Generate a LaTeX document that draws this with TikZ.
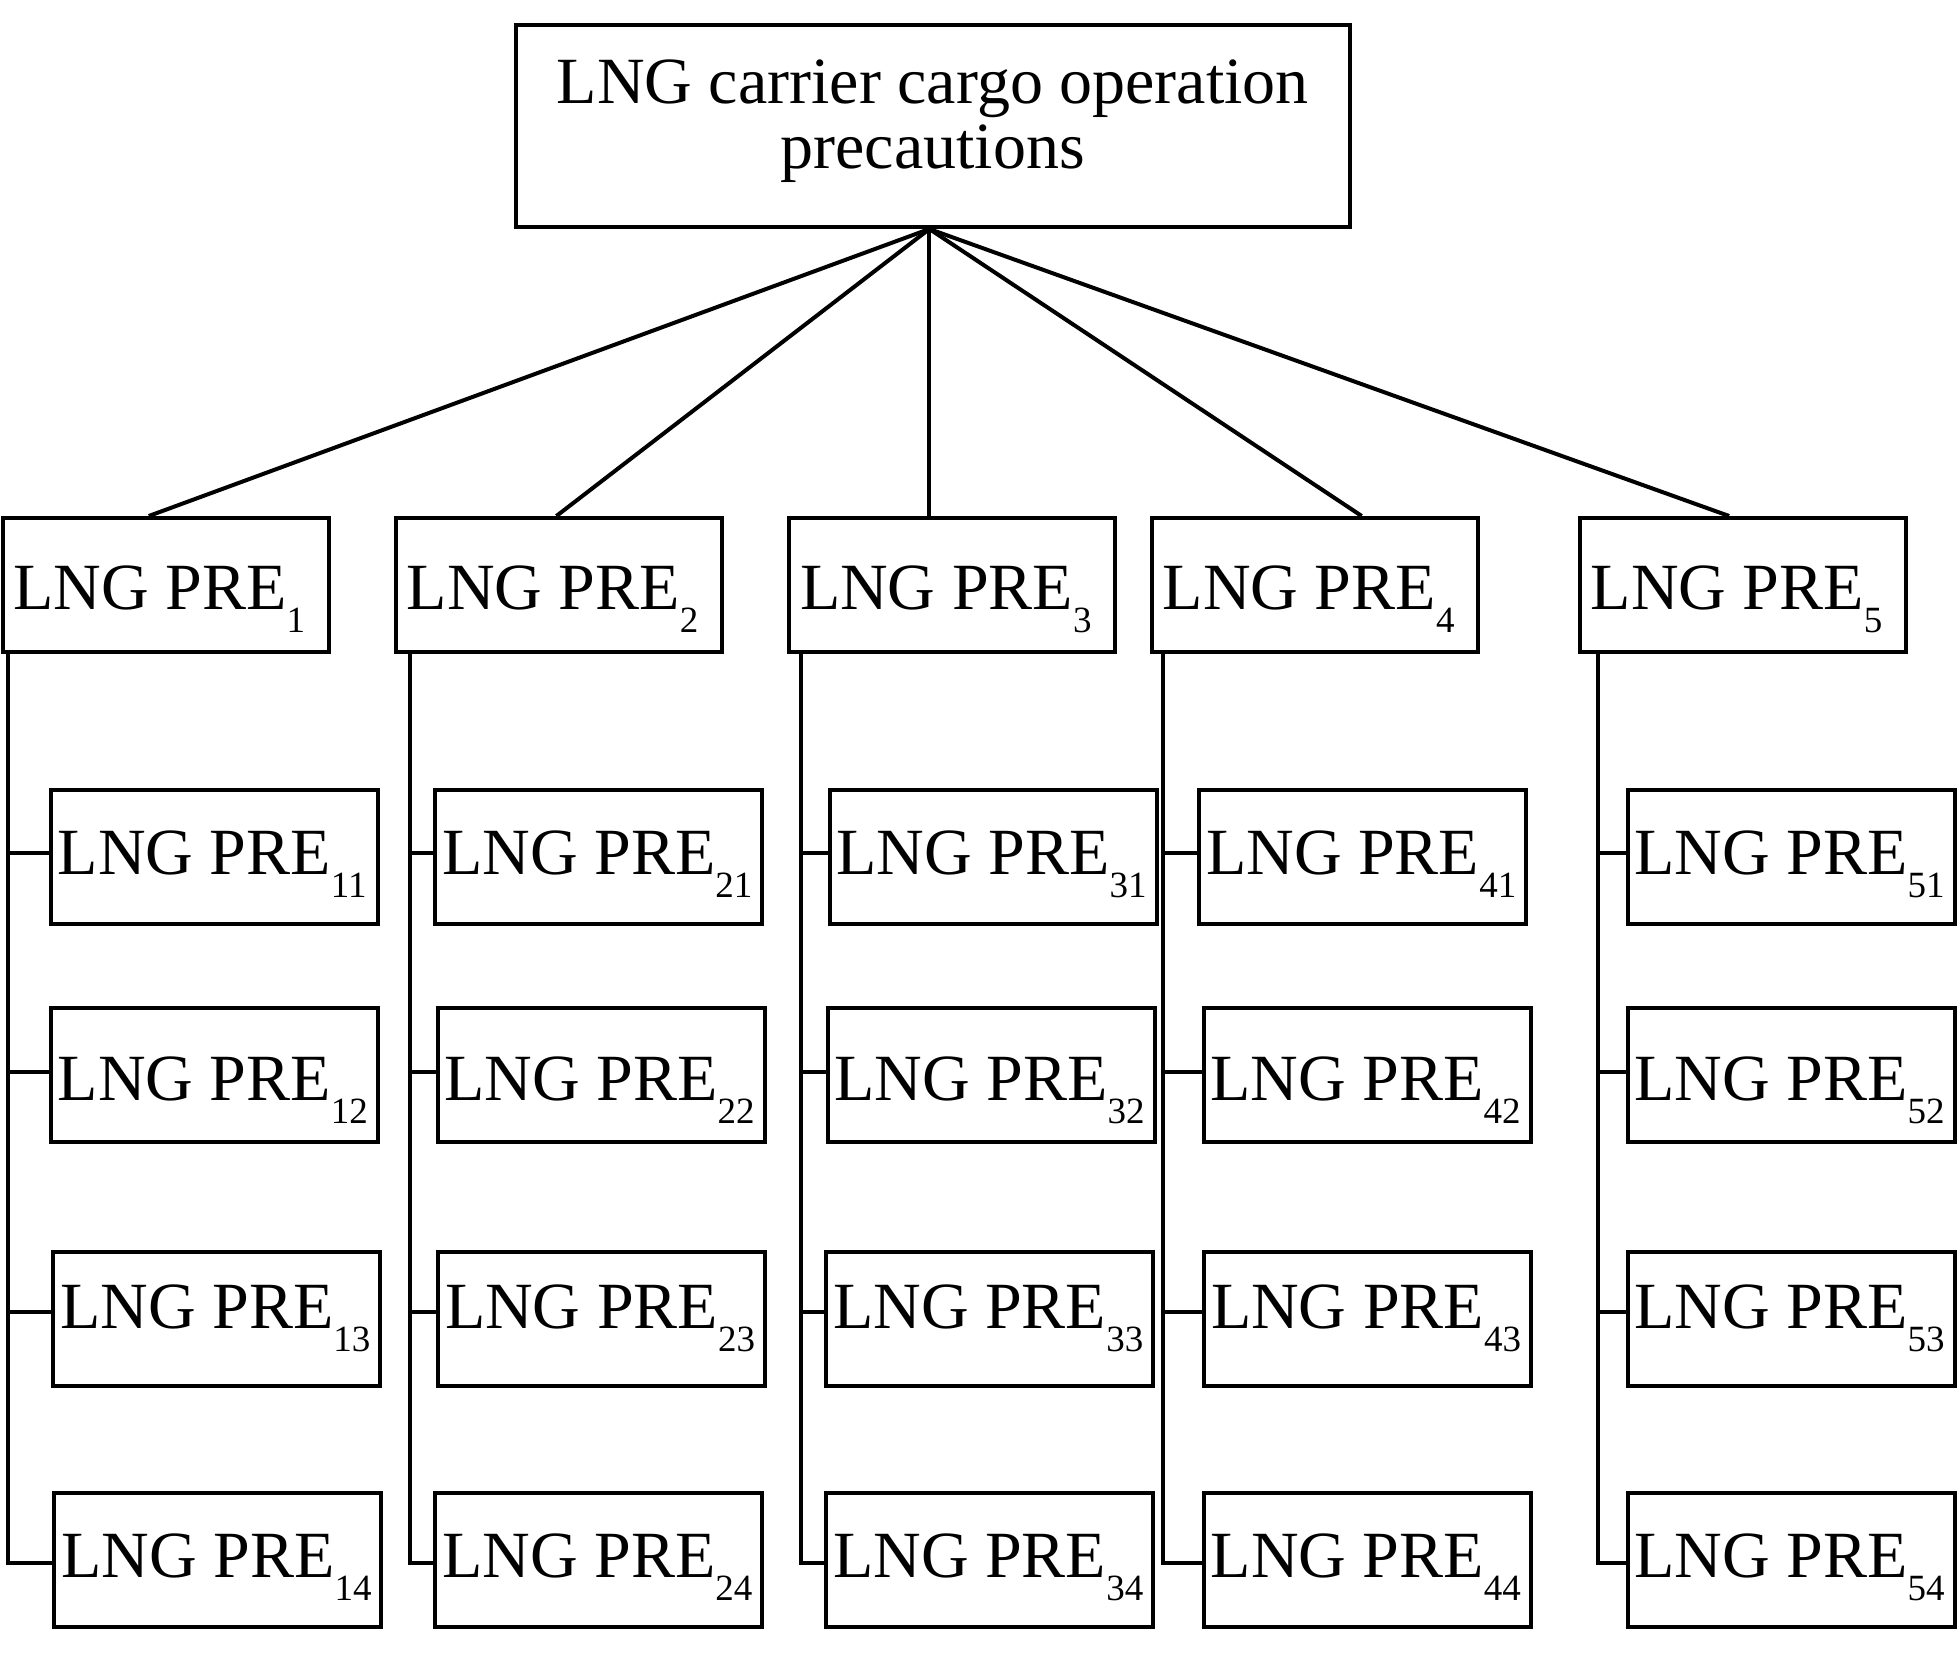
\documentclass[tikz,border=0pt]{standalone}
\usepackage{fontspec}
\setmainfont{Liberation Serif}
\newcommand{\mainsz}{\fontsize{33}{32.5}\selectfont}
\newcommand{\lngpre}[1]{LNG PRE\raisebox{-11.5pt}{\fontsize{18.5}{20}\selectfont #1}}
\newcommand{\preA}[1]{\makebox[152pt][l]{\lngpre{#1}}}
\newcommand{\preB}[1]{\makebox[156.5pt][l]{\lngpre{#1}}}
\begin{document}
\begin{tikzpicture}[x=0.5pt,y=-0.5pt,line width=2pt,
  box/.style={draw,rectangle,inner sep=0pt,font=\mainsz},
  lone/.style={box,minimum width=163pt,minimum height=67pt,text height=36pt,text depth=12pt},
  ltwo/.style={box,minimum width=163.5pt,minimum height=67pt,text depth=12pt},
  rowa/.style={ltwo,text height=29pt},
  rowb/.style={ltwo,text height=37.5pt},
  rowc/.style={ltwo,text height=21.5pt},
  rowd/.style={ltwo,text height=29pt}]
\useasboundingbox (0,0) rectangle (1958,1654);

% root
\node[box,minimum width=417pt,minimum height=101pt,align=center] (top) at (932.75,126)
  {\rule{0pt}{25pt}LNG carrier cargo operation\\precautions\rule[-15.2pt]{0pt}{15.2pt}};

% level 1
\node[lone] (b1) at (165.5,585) {\preA{1}};
\node[lone] (b2) at (558.7,585) {\preA{2}};
\node[lone] (b3) at (952,585) {\preA{3}};
\node[lone] (b4) at (1314.8,585) {\preA{4}};
\node[lone] (b5) at (1742.7,585) {\preA{5}};

% level 2, column 1
\node[rowa] (p11) at (214.3,857) {\preB{11}};
\node[rowb] (p12) at (214.2,1075.2) {\preB{12}};
\node[rowc] (p13) at (216.7,1319.3) {\preB{13}};
\node[rowd] (p14) at (217.9,1560) {\preB{14}};
% column 2
\node[rowa] (p21) at (598.8,857) {\preB{21}};
\node[rowb] (p22) at (601,1075.2) {\preB{22}};
\node[rowc] (p23) at (601.5,1319.3) {\preB{23}};
\node[rowd] (p24) at (598.8,1560) {\preB{24}};
% column 3
\node[rowa] (p31) at (993,857) {\preB{31}};
\node[rowb] (p32) at (991,1075.2) {\preB{32}};
\node[rowc] (p33) at (989.6,1319.3) {\preB{33}};
\node[rowd] (p34) at (989.6,1560) {\preB{34}};
% column 4
\node[rowa] (p41) at (1362.6,857) {\preB{41}};
\node[rowb] (p42) at (1367,1075.2) {\preB{42}};
\node[rowc] (p43) at (1367.5,1319.3) {\preB{43}};
\node[rowd] (p44) at (1367.2,1560) {\preB{44}};
% column 5
\node[rowa] (p51) at (1791,857) {\preB{51}};
\node[rowb] (p52) at (1791,1075.2) {\preB{52}};
\node[rowc] (p53) at (1791,1319.3) {\preB{53}};
\node[rowd] (p54) at (1791,1560) {\preB{54}};

% connectors from root
\coordinate (apex) at ([xshift=-1.7pt]top.south);
\draw (apex) -- ([xshift=-8.35pt]b1.north);
\draw (apex) -- ([xshift=-1.15pt]b2.north);
\draw (apex) -- (apex |- b3.north);
\draw (apex) -- ([xshift=23.45pt]b4.north);
\draw (apex) -- ([xshift=-6.8pt]b5.north);

% trunks
\foreach \c/\tx in {1/8.3,2/410,3/800.7,4/1162.7,5/1598.3}
  \coordinate (t\c) at (\tx,0);
\foreach \c in {1,...,5}{
  \foreach \r/\s in {1/2pt,2/1.5pt,3/3.5pt,4/-1.5pt}
    \path ([yshift=\s]p\c\r.west) coordinate (e\c\r);
  \draw (b\c.south -| t\c) |- (e\c4);
  \foreach \r in {1,2,3}
    \draw (e\c\r -| t\c) -- (e\c\r);
}
\end{tikzpicture}
\end{document}
